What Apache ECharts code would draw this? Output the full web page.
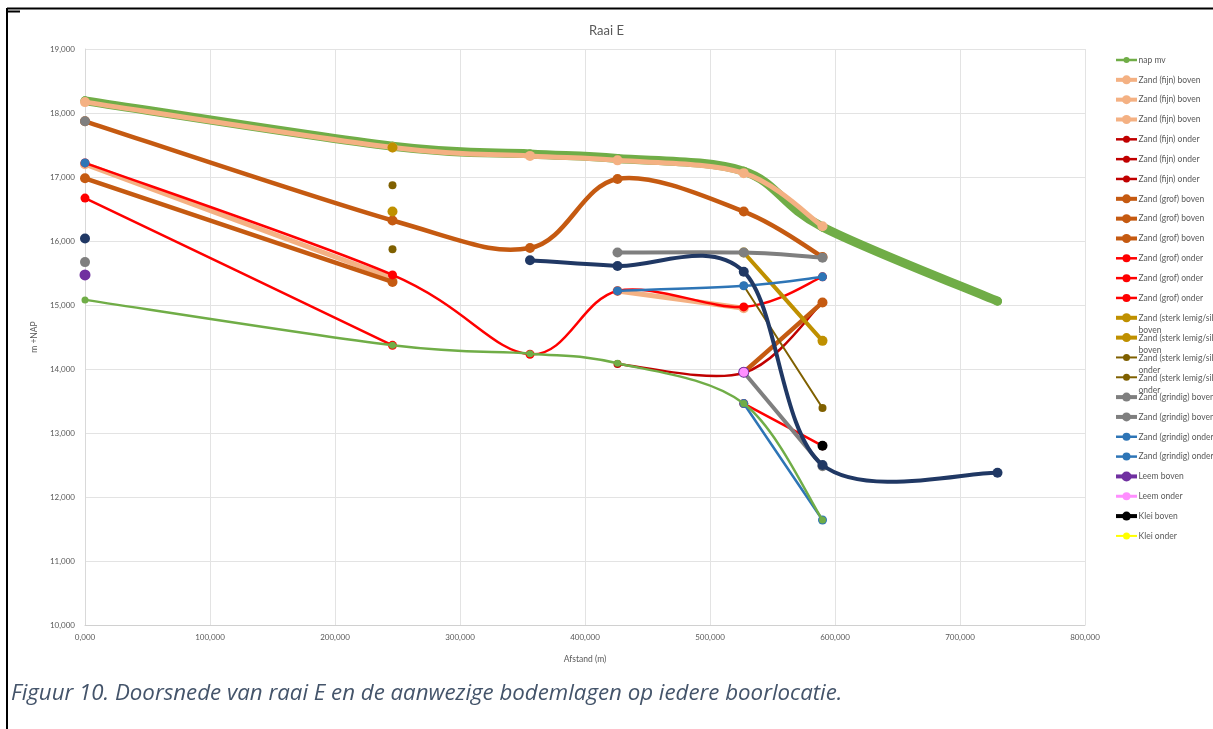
<!DOCTYPE html>
<html>
<head>
<meta charset="utf-8">
<title>Raai E</title>
<script src="https://cdn.jsdelivr.net/npm/echarts@6/dist/echarts.min.js"></script>
<style>
  html, body { margin: 0; padding: 0; background: #ffffff; }
  #chart { width: 1213px; height: 729px; }
</style>
</head>
<body>
<div id="chart"></div>
<script>
// Boorlocaties langs raai E: afstand in m
const afstand = [0, 246, 356, 426, 527, 590, 730];

// Hoogtes in m +NAP per boorlocatie (null = laag niet aangetroffen)
const maaiveld    = [18.19, 17.48, 17.36, 17.29, 17.09, 16.22, 15.06];
const napMv       = [15.08, 14.37, 14.24, 14.09, 13.46, 11.64, null];
const fijnBoven1  = [18.17, 17.46, 17.33, 17.26, 17.06, 16.23, null];
const fijnBoven2  = [17.20, 15.42, null, null, null, null, null];
const fijnBoven3  = [null, null, null, 15.22, 14.95, null, null];
const fijnOnder1  = [null, null, null, 14.08, 13.94, 15.04, null];
const fijnOnder2  = [null, null, null, null, null, null, null];
const fijnOnder3  = [null, null, null, null, null, null, null];
const grofBoven1  = [17.87, 16.32, 15.89, 16.97, 16.46, 15.75, null];
const grofBoven2  = [16.98, 15.36, null, null, null, null, null];
const grofBoven3  = [null, null, null, null, 13.95, 15.04, null];
const grofOnder1  = [17.22, 15.47, 14.23, 15.22, 14.97, 15.44, null];
const grofOnder2  = [16.67, 14.37, null, null, null, null, null];
const grofOnder3  = [null, null, null, null, 13.46, 12.80, null];
const lemigBoven1 = [null, 17.46, null, null, null, null, null];
const lemigBoven2 = [null, 16.46, null, null, 15.82, 14.44, null];
const lemigOnder1 = [null, 16.87, null, null, null, null, null];
const lemigOnder2 = [null, 15.87, null, null, 15.30, 13.39, null];
const grindBoven1 = [17.87, null, null, 15.82, 15.82, 15.74, null];
const grindBoven2 = [15.67, null, null, null, 13.95, 12.48, null];
const grindOnder1 = [17.22, null, null, 15.22, 15.30, 15.44, null];
const grindOnder2 = [null, null, null, null, 13.46, 11.64, null];
const leemBoven   = [15.47, null, null, null, 13.95, null, null];
const leemOnder   = [null, null, null, null, 13.95, null, null];
const kleiBoven   = [null, null, null, null, null, 12.80, null];
const kleiOnder   = [null, null, null, null, null, null, null];
const diepeLaag   = [16.04, null, 15.70, 15.61, 15.52, 12.50, 12.38];

// Aslabels
const xTicks = [0, 100, 200, 300, 400, 500, 600, 700, 800];
const yTicks = [10, 11, 12, 13, 14, 15, 16, 17, 18, 19];

// Lagen in legendavolgorde; 'z' bepaalt de tekenvolgorde
const C = {
  groen: '#70AD47', perzik: '#F4B183', donkerrood: '#C00000', bruin: '#C55A11',
  rood: '#FF0000', goud: '#BF9000', olijf: '#7F6000', grijs: '#7F7F7F',
  blauw: '#2E75B6', paars: '#7030A0', roze: '#FF8FFF', zwart: '#000000',
  geel: '#FFFF00', navy: '#203864'
};
const layers = [
  { name: 'nap mv',                              values: napMv,       color: C.groen,      width: 2.5, marker: 7,  z: 40, legend: true },
  { name: 'Zand (fijn) boven',                   values: fijnBoven1,  color: C.perzik,     width: 5,   marker: 10, z: 11, legend: true },
  { name: 'Zand (fijn) boven',                   values: fijnBoven2,  color: C.perzik,     width: 5,   marker: 10, z: 12, legend: true },
  { name: 'Zand (fijn) boven',                   values: fijnBoven3,  color: C.perzik,     width: 5,   marker: 10, z: 13, legend: true },
  { name: 'Zand (fijn) onder',                   values: fijnOnder1,  color: C.donkerrood, width: 2.5, marker: 8,  z: 14, legend: true },
  { name: 'Zand (fijn) onder',                   values: fijnOnder2,  color: C.donkerrood, width: 2.5, marker: 8,  z: 15, legend: true },
  { name: 'Zand (fijn) onder',                   values: fijnOnder3,  color: C.donkerrood, width: 2.5, marker: 8,  z: 16, legend: true },
  { name: 'Zand (grof) boven',                   values: grofBoven1,  color: C.bruin,      width: 4.5, marker: 10, z: 17, legend: true },
  { name: 'Zand (grof) boven',                   values: grofBoven2,  color: C.bruin,      width: 4.5, marker: 10, z: 18, legend: true },
  { name: 'Zand (grof) boven',                   values: grofBoven3,  color: C.bruin,      width: 4.5, marker: 10, z: 19, legend: true },
  { name: 'Zand (grof) onder',                   values: grofOnder1,  color: C.rood,       width: 2.5, marker: 9,  z: 20, legend: true },
  { name: 'Zand (grof) onder',                   values: grofOnder2,  color: C.rood,       width: 2.5, marker: 9,  z: 21, legend: true },
  { name: 'Zand (grof) onder',                   values: grofOnder3,  color: C.rood,       width: 2.5, marker: 9,  z: 22, legend: true },
  { name: 'Zand (sterk lemig/siltig)\nboven',    values: lemigBoven1, color: C.goud,       width: 4,   marker: 10, z: 23, legend: true },
  { name: 'Zand (sterk lemig/siltig)\nboven',    values: lemigBoven2, color: C.goud,       width: 4,   marker: 10, z: 24, legend: true },
  { name: 'Zand (sterk lemig/siltig)\nonder',    values: lemigOnder1, color: C.olijf,      width: 2,   marker: 8,  z: 25, legend: true },
  { name: 'Zand (sterk lemig/siltig)\nonder',    values: lemigOnder2, color: C.olijf,      width: 2,   marker: 8,  z: 26, legend: true },
  { name: 'Zand (grindig) boven',                values: grindBoven1, color: C.grijs,      width: 4,   marker: 10, z: 27, legend: true },
  { name: 'Zand (grindig) boven',                values: grindBoven2, color: C.grijs,      width: 4,   marker: 10, z: 28, legend: true },
  { name: 'Zand (grindig) onder',                values: grindOnder1, color: C.blauw,      width: 2.5, marker: 9,  z: 29, legend: true },
  { name: 'Zand (grindig) onder',                values: grindOnder2, color: C.blauw,      width: 2.5, marker: 9,  z: 30, legend: true },
  { name: 'Leem boven',                          values: leemBoven,   color: C.paars,      width: 4,   marker: 11, z: 41, legend: true },
  { name: 'Leem onder',                          values: leemOnder,   color: C.roze,       width: 3,   marker: 9,  z: 42, legend: true },
  { name: 'Klei boven',                          values: kleiBoven,   color: C.zwart,      width: 4,   marker: 10, z: 43, legend: true },
  { name: 'Klei onder',                          values: kleiOnder,   color: C.geel,       width: 2,   marker: 8,  z: 44, legend: true },
  { name: 'maaiveld',                            values: maaiveld,    color: C.groen,      width: 9,   marker: 9,  z: 10, legend: false },
  { name: 'diepe laag',                          values: diepeLaag,   color: C.navy,       width: 4,   marker: 10, z: 45, legend: false }
];

const fmt = v => v.toFixed(3).replace('.', ',');
const FONT = 'Lato, "Open Sans", sans-serif';
const GREY_TEXT = '#595959';

// Segmenten tussen opeenvolgende boorpunten, met buurpunten voor de gladde kromme
function segmentsOf(values) {
  const segs = [];
  for (let i = 0; i < values.length - 1; i++) {
    if (values[i] == null || values[i + 1] == null) continue;
    const p = (i > 0 && values[i - 1] != null) ? i - 1 : i;
    const n = (i + 2 < values.length && values[i + 2] != null) ? i + 2 : i + 1;
    segs.push([afstand[p], values[p], afstand[i], values[i],
               afstand[i + 1], values[i + 1], afstand[n], values[n]]);
  }
  return segs;
}

// Gladde lijn (Catmull-Rom als Bézier, spanning 1/6) in schermcoördinaten
function smoothSegment(color, width) {
  return function (params, api) {
    const p = [0, 1, 2, 3].map(k => api.coord([api.value(2 * k), api.value(2 * k + 1)]));
    return {
      type: 'bezierCurve',
      silent: true,
      shape: {
        x1: p[1][0], y1: p[1][1], x2: p[2][0], y2: p[2][1],
        cpx1: p[1][0] + (p[2][0] - p[0][0]) / 6, cpy1: p[1][1] + (p[2][1] - p[0][1]) / 6,
        cpx2: p[2][0] - (p[3][0] - p[1][0]) / 6, cpy2: p[2][1] - (p[3][1] - p[1][1]) / 6
      },
      style: { stroke: color, lineWidth: width, fill: 'none', lineCap: 'round' }
    };
  };
}

const series = [];
layers.forEach(l => {
  series.push({
    type: 'custom',
    name: l.name,
    data: segmentsOf(l.values),
    encode: { x: [0, 2, 4, 6], y: [1, 3, 5, 7] },
    renderItem: smoothSegment(l.color, l.width),
    z: l.z,
    silent: true,
    animation: false
  });
  series.push({
    type: 'scatter',
    name: l.name,
    data: afstand.map((d, i) => [d, l.values[i]]).filter(pt => pt[1] != null),
    symbol: 'circle',
    symbolSize: l.marker,
    itemStyle: { color: l.color, borderWidth: 0, opacity: 1 },
    z: l.z,
    silent: true,
    animation: false
  });
});

// Legenda rechts van het plotgebied
const legendItems = layers.filter(l => l.legend);
const legendGraphics = [];
legendItems.forEach((l, k) => {
  const y = 60 + k * 19.83;
  legendGraphics.push({
    type: 'line', silent: true,
    shape: { x1: 1116, y1: y, x2: 1137, y2: y },
    style: { stroke: l.color, lineWidth: Math.min(l.width, 4) }
  });
  legendGraphics.push({
    type: 'circle', silent: true,
    shape: { cx: 1126.5, cy: y, r: Math.max(2.5, l.marker / 2 - 0.5) },
    style: { fill: l.color }
  });
  const twoLines = l.name.indexOf('\n') >= 0;
  legendGraphics.push({
    type: 'text', silent: true,
    x: 1138.5, y: twoLines ? y - 5.5 : y,
    style: {
      text: l.name, fill: GREY_TEXT, font: '8.5px ' + FONT,
      verticalAlign: twoLines ? 'top' : 'middle', lineHeight: 12
    }
  });
});

// Onderschrift: lettergrootte zo dat de regel tot de rechterkant van de figuurtekst loopt
const CAPTION = 'Figuur 10. Doorsnede van raai E en de aanwezige bodemlagen op iedere boorlocatie.';
const CAPTION_FONT = '"Open Sans", Lato, sans-serif';
const measureCtx = document.createElement('canvas').getContext('2d');
measureCtx.font = 'italic 20px ' + CAPTION_FONT;
const captionSize = Math.max(16, Math.min(24, 20 * 832 / measureCtx.measureText(CAPTION).width));

// Paginakader en onderschrift
const pageGraphics = [
  { type: 'line', silent: true, shape: { x1: 7, y1: 8.5, x2: 1213, y2: 8.5 }, style: { stroke: '#000', lineWidth: 2 } },
  { type: 'line', silent: true, shape: { x1: 7, y1: 8, x2: 7, y2: 729 }, style: { stroke: '#000', lineWidth: 2 } },
  { type: 'line', silent: true, shape: { x1: 6, y1: 11.5, x2: 20, y2: 11.5 }, style: { stroke: '#000', lineWidth: 2 } },
  {
    type: 'text', silent: true, x: 11, y: 694,
    style: {
      text: CAPTION, fill: '#44546A',
      font: 'italic ' + captionSize.toFixed(2) + 'px ' + CAPTION_FONT, verticalAlign: 'middle'
    }
  }
];

const chart = echarts.init(document.getElementById('chart'), null, { renderer: 'canvas' });
chart.setOption({
  animation: false,
  backgroundColor: '#ffffff',
  textStyle: { fontFamily: FONT },
  title: {
    text: 'Raai E', left: 'center', top: 19,
    textStyle: { color: GREY_TEXT, fontSize: 13, fontWeight: 'normal', fontFamily: FONT }
  },
  grid: { left: 85, right: 128, top: 49, bottom: 104, containLabel: false },
  xAxis: {
    type: 'value', min: xTicks[0], max: xTicks[xTicks.length - 1], interval: 100,
    name: 'Afstand (m)', nameLocation: 'middle', nameGap: 30,
    nameTextStyle: { color: GREY_TEXT, fontSize: 8.5, fontFamily: FONT },
    axisLine: { show: true, lineStyle: { color: '#D0D0D0', width: 1 } },
    axisTick: { show: false },
    axisLabel: { color: GREY_TEXT, fontSize: 8, margin: 8, formatter: v => fmt(v), fontFamily: FONT },
    splitLine: { show: true, lineStyle: { color: '#E3E3E3', width: 1 } }
  },
  yAxis: {
    type: 'value', min: yTicks[0], max: yTicks[yTicks.length - 1], interval: 1,
    name: 'm +NAP', nameLocation: 'middle', nameGap: 40, nameRotate: 90,
    nameTextStyle: { color: GREY_TEXT, fontSize: 8.5, fontFamily: FONT },
    axisLine: { show: true, lineStyle: { color: '#D9D9D9', width: 1 } },
    axisTick: { show: false },
    axisLabel: { color: GREY_TEXT, fontSize: 8, margin: 10, formatter: v => fmt(v), fontFamily: FONT },
    splitLine: { show: true, lineStyle: { color: '#E3E3E3', width: 1 } }
  },
  series: series,
  graphic: { elements: legendGraphics.concat(pageGraphics) }
});
</script>
</body>
</html>
